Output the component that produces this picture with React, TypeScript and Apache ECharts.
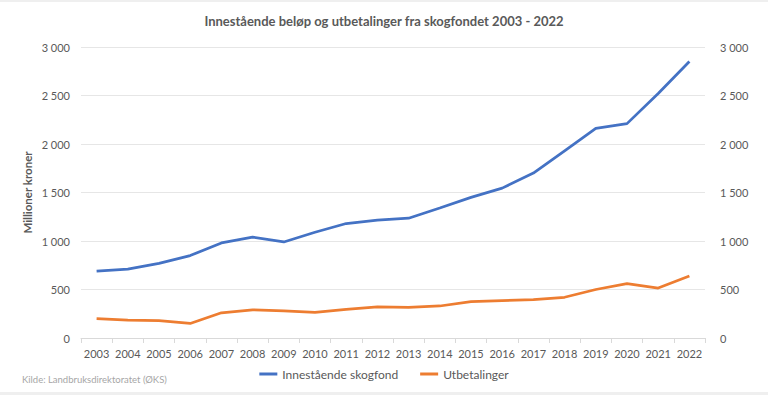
import React, { useEffect, useRef } from "react";
import * as echarts from "echarts";

const years = ["2003","2004","2005","2006","2007","2008","2009","2010","2011","2012","2013","2014","2015","2016","2017","2018","2019","2020","2021","2022"];
const innestaende = [690, 710, 770, 850, 980, 1040, 990, 1090, 1180, 1215, 1235, 1340, 1450, 1545, 1700, 1930, 2160, 2210, 2520, 2850];
const utbetalinger = [200, 185, 180, 150, 260, 290, 280, 265, 295, 320, 315, 330, 375, 385, 395, 420, 500, 560, 515, 640];
const title = "Innestående beløp og utbetalinger fra skogfondet 2003 - 2022";
const source = "Kilde: Landbruksdirektoratet (ØKS)";
const seriesNames = ["Innestående skogfond", "Utbetalinger"];

const FONT = "Lato, 'Open Sans', sans-serif";
const fmt = (v: number) => {
  const s = String(Math.round(v));
  return s.replace(/\B(?=(\d{3})+(?!\d))/g, " ");
};

export default function App() {
  const ref = useRef<HTMLDivElement>(null);
  useEffect(() => {
    if (!ref.current) return;
    const chart = echarts.init(ref.current, null, { renderer: "svg" });
    const axisLabel = { color: "#595959", fontSize: 11, fontFamily: FONT, formatter: fmt };
    chart.setOption({
      animation: false,
      backgroundColor: "#fff",
      textStyle: { fontFamily: FONT },
      title: {
        text: title,
        left: "center",
        top: 9,
        textStyle: { color: "#595959", fontSize: 13, fontWeight: "bold", fontFamily: FONT },
      },
      legend: {
        data: seriesNames,
        bottom: 10,
        left: "center",
        icon: "rect",
        itemWidth: 18,
        itemHeight: 3,
        itemGap: 22,
        textStyle: { color: "#595959", fontSize: 12, fontFamily: FONT },
      },
      grid: { left: 81, right: 63, top: 47, bottom: 57 },
      xAxis: {
        type: "category",
        data: years,
        boundaryGap: true,
        axisLine: { lineStyle: { color: "#d9d9d9" } },
        axisTick: { show: true, alignWithLabel: false, length: 5, lineStyle: { color: "#d9d9d9" } },
        axisLabel: { color: "#595959", fontSize: 11, fontFamily: FONT, margin: 10, interval: 0 },
      },
      yAxis: [
        {
          type: "value",
          min: 0,
          max: 3000,
          interval: 500,
          name: "Millioner kroner",
          nameLocation: "middle",
          nameGap: 48,
          nameMoveOverlap: false,
          nameTextStyle: { color: "#595959", fontSize: 11.5, fontWeight: "bold", fontFamily: FONT },
          axisLine: { show: false },
          axisTick: { show: false },
          axisLabel: { ...axisLabel, margin: 11 },
          splitLine: { lineStyle: { color: "#e6e6e6" } },
        },
        {
          type: "value",
          min: 0,
          max: 3000,
          interval: 500,
          position: "right",
          axisLine: { show: false },
          axisTick: { show: false },
          axisLabel: { ...axisLabel, margin: 15 },
          splitLine: { show: false },
        },
      ],
      series: [
        {
          name: seriesNames[0],
          type: "line",
          data: innestaende,
          yAxisIndex: 0,
          showSymbol: false,
          symbol: "none",
          lineStyle: { color: "#4472C4", width: 2.75 },
          itemStyle: { color: "#4472C4" },
        },
        {
          name: seriesNames[1],
          type: "line",
          data: utbetalinger,
          yAxisIndex: 0,
          showSymbol: false,
          symbol: "none",
          lineStyle: { color: "#ED7D31", width: 2.75 },
          itemStyle: { color: "#ED7D31" },
        },
      ],
      graphic: [
        { type: "rect", left: 0, top: 0, shape: { width: 768, height: 2 }, style: { fill: "#efefef" } },
        { type: "rect", left: 0, bottom: 0, shape: { width: 768, height: 3 }, style: { fill: "#efefef" } },
        {
          type: "text",
          left: 22,
          top: 374,
          style: { text: source, fill: "#a6a6a6", fontSize: 9.5, fontFamily: FONT },
        },
      ],
    });
    return () => chart.dispose();
  }, []);
  return (
    <div
      ref={ref}
      style={{ position: "absolute", left: 0, top: 0, width: 768, height: 395 }}
    />
  );
}
